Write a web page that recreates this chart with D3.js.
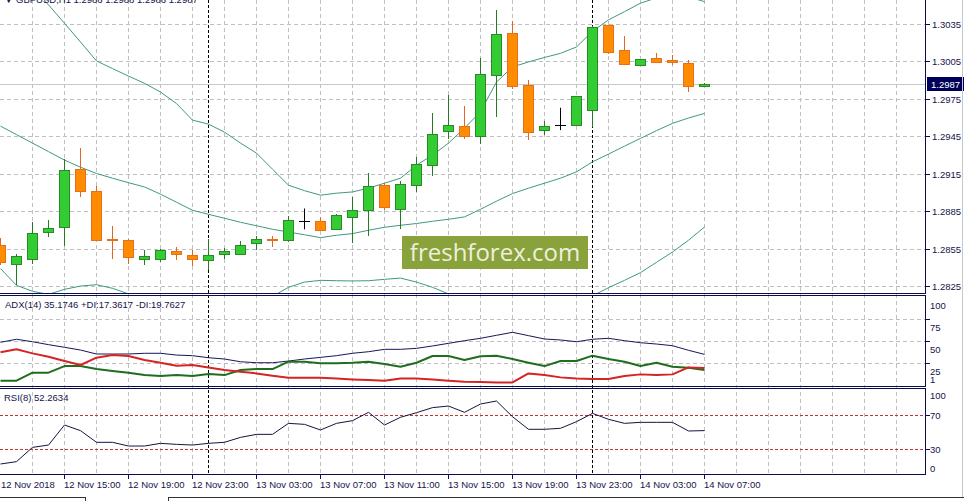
<!DOCTYPE html>
<html lang="en">
<head>
  <meta charset="UTF-8">
  <title>GBPUSD,H1</title>
  <style>
    body { margin: 0; background: #fff; }
    svg { display: block; font-family: "Liberation Sans", Arial, sans-serif; }
  </style>
</head>
<body>
  <svg width="967" height="501"></svg>

  <script src="https://cdnjs.cloudflare.com/ajax/libs/d3/7.8.5/d3.min.js"></script>
  <script>
    // GBPUSD H1 bars, first bar = 12 Nov 2018 11:00
    const firstBar = Date.UTC(2018, 10, 12, 11);

    const opens  = [1.28587, 1.28434, 1.28471, 1.28691, 1.28731, 1.29191, 1.29014, 1.28635, 1.28621, 1.28474,
                    1.28474, 1.28533, 1.28507, 1.28466, 1.28515, 1.28515, 1.28603, 1.28635, 1.28621, 1.28776,
                    1.28774, 1.28710, 1.28808, 1.28868, 1.29065, 1.28872, 1.29062, 1.29223, 1.29496, 1.29538,
                    1.29453, 1.29943, 1.30279, 1.29862, 1.29504, 1.29541, 1.29546, 1.29664, 1.30346, 1.30143,
                    1.30023, 1.30079, 1.30063, 1.30041, 1.29860];
    const highs  = [1.28637, 1.28509, 1.28768, 1.28782, 1.29269, 1.29359, 1.29057, 1.28734, 1.28635, 1.28541,
                    1.28549, 1.28568, 1.28541, 1.28635, 1.28563, 1.28613, 1.28653, 1.28659, 1.28819, 1.28876,
                    1.28806, 1.28835, 1.28969, 1.29164, 1.29081, 1.29095, 1.29285, 1.29638, 1.29784, 1.29696,
                    1.30079, 1.30466, 1.30376, 1.29905, 1.29576, 1.29683, 1.29776, 1.30338, 1.30350, 1.30258,
                    1.30077, 1.30124, 1.30103, 1.30063, 1.29880];
    const lows   = [1.28421, 1.28260, 1.28434, 1.28648, 1.28576, 1.28969, 1.28616, 1.28474, 1.28434, 1.28426,
                    1.28447, 1.28466, 1.28415, 1.28381, 1.28474, 1.28509, 1.28541, 1.28568, 1.28608, 1.28710,
                    1.28701, 1.28701, 1.28603, 1.28656, 1.28862, 1.28715, 1.29009, 1.29137, 1.29429, 1.29429,
                    1.29389, 1.29610, 1.29830, 1.29421, 1.29464, 1.29504, 1.29541, 1.29530, 1.30111, 1.30025,
                    1.30017, 1.30039, 1.30025, 1.29811, 1.29860];
    const closes = [1.28447, 1.28493, 1.28677, 1.28718, 1.29183, 1.29020, 1.28624, 1.28629, 1.28487, 1.28493,
                    1.28541, 1.28515, 1.28474, 1.28507, 1.28533, 1.28587, 1.28629, 1.28629, 1.28787, 1.28776,
                    1.28707, 1.28822, 1.28862, 1.29057, 1.28888, 1.29070, 1.29229, 1.29477, 1.29549, 1.29458,
                    1.29951, 1.30271, 1.29854, 1.29493, 1.29536, 1.29541, 1.29774, 1.30332, 1.30132, 1.30031,
                    1.30071, 1.30052, 1.30052, 1.29854, 1.29870];

    // Bollinger bands
    const bbUpper  = [1.30932, 1.30788, 1.30643, 1.30507, 1.30360, 1.30210, 1.30058, 1.29997, 1.29937, 1.29879,
                      1.29809, 1.29717, 1.29584, 1.29552, 1.29488, 1.29400, 1.29320, 1.29191, 1.29063, 1.29019,
                      1.28983, 1.28999, 1.29009, 1.29039, 1.29079, 1.29119, 1.29223, 1.29304, 1.29400, 1.29520,
                      1.29651, 1.29889, 1.30010, 1.30050, 1.30086, 1.30119, 1.30170, 1.30296, 1.30387, 1.30453,
                      1.30521, 1.30563, 1.30579, 1.30571, 1.30533];
    const bbMiddle = [1.29536, 1.29468, 1.29400, 1.29332, 1.29264, 1.29207, 1.29157, 1.29119, 1.29083, 1.29049,
                      1.28991, 1.28927, 1.28862, 1.28830, 1.28798, 1.28766, 1.28738, 1.28710, 1.28688, 1.28666,
                      1.28643, 1.28662, 1.28675, 1.28702, 1.28726, 1.28742, 1.28756, 1.28774, 1.28790, 1.28809,
                      1.28870, 1.28935, 1.28996, 1.29039, 1.29079, 1.29119, 1.29170, 1.29250, 1.29312, 1.29376,
                      1.29438, 1.29500, 1.29558, 1.29601, 1.29638];
    const bbLower  = [1.28395, 1.28261, 1.28213, 1.28189, 1.28229, 1.28255, 1.28266, 1.28237, 1.28192, 1.28140,
                      1.28100, 1.28060, 1.28020, 1.28020, 1.28044, 1.28084, 1.28124, 1.28173, 1.28245, 1.28287,
                      1.28301, 1.28298, 1.28296, 1.28298, 1.28309, 1.28319, 1.28287, 1.28245, 1.28192, 1.28124,
                      1.28020, 1.27940, 1.27916, 1.27932, 1.27980, 1.28044, 1.28116, 1.28177, 1.28242, 1.28301,
                      1.28363, 1.28445, 1.28528, 1.28622, 1.28728];

    // ADX(14)
    const adx     = [48.9, 52.3, 49.5, 46.2, 43.2, 40.1, 35.6, 35.6, 35.6, 36.4, 36.4, 34.4, 33.7, 31.4, 29.9,
                     26.8, 25.7, 25.7, 27.6, 29.9, 31.8, 33.7, 36.4, 38.2, 40.9, 40.9, 42.0, 44.7, 47.7, 50.7,
                     53.4, 56.8, 60.2, 56.4, 52.6, 51.5, 49.5, 52.3, 53.4, 50.7, 48.4, 46.9, 45.0, 39.8, 35.17];
    const plusDI  = [5.3, 5.3, 14.4, 14.4, 21.9, 21.9, 18.5, 16.3, 14.4, 11.7, 10.6, 11.7, 10.6, 12.8, 11.7,
                     17.4, 18.5, 18.5, 26.9, 26.9, 25.0, 25.0, 25.7, 26.9, 24.2, 21.2, 25.7, 33.3, 33.3, 28.7,
                     33.0, 33.7, 29.9, 25.7, 21.9, 27.6, 27.6, 33.7, 29.9, 26.9, 21.9, 25.7, 21.2, 20.0, 17.36];
    const minusDI = [37.5, 40.9, 36.3, 32.5, 27.6, 23.1, 31.4, 34.4, 33.3, 28.7, 25.7, 22.3, 23.1, 20.4, 17.4,
                     15.5, 13.6, 10.9, 8.7, 8.7, 8.7, 7.9, 6.8, 6.0, 5.3, 7.9, 7.9, 6.8, 5.3, 4.1,
                     3.8, 3.4, 3.4, 13.6, 11.7, 9.1, 7.9, 7.2, 7.2, 10.6, 12.5, 11.7, 12.5, 20.4, 19.76];

    // RSI(8)
    const rsi = [12.5, 15.3, 32.3, 35.1, 58.9, 52.2, 38.3, 38.3, 33.9, 33.9, 37.1, 35.9, 35.1, 37.1, 38.3,
                 44.2, 47.8, 47.8, 60.9, 59.7, 53.0, 60.9, 64.1, 74.0, 58.9, 68.1, 73.6, 79.6, 81.5, 74.0,
                 83.9, 87.5, 68.8, 53.8, 53.8, 55.0, 62.9, 72.8, 65.7, 60.9, 62.1, 62.1, 62.1, 51.8, 52.26];

    const priceTicks = [1.3035, 1.3005, 1.2975, 1.2945, 1.2915, 1.2885, 1.2855, 1.2825];
    const bidPrice = 1.2987;
    const adxLabels = [100, 75, 50, 25, 1];
    const adxGrid = [75, 50, 25];
    const rsiLabels = [100, 70, 30, 0];
    const rsiLevels = [70, 30];
    const timeLabels = ["12 Nov 2018", "12 Nov 15:00", "12 Nov 19:00", "12 Nov 23:00", "13 Nov 03:00",
                        "13 Nov 07:00", "13 Nov 11:00", "13 Nov 15:00", "13 Nov 19:00", "13 Nov 23:00",
                        "14 Nov 03:00", "14 Nov 07:00"];
    const titleText = "GBPUSD,H1  1.2986 1.2988 1.2986 1.2987";
    const adxTitle = "ADX(14) 35.1746 +DI:17.3617 -DI:19.7627";
    const rsiTitle = "RSI(8) 52.2634";

    const HOUR = 3600e3;
    const times = opens.map((d, i) => new Date(firstBar + i * HOUR));

    const svg = d3.select("svg");
    const plotRight = 925.5;
    const axisColor = "#0c0c50";
    const textColor = "#14144a";

    // パネル
    const main = { top: 0, bottom: 293.5 };
    const pAdx = { top: 295.5, bottom: 386.5 };
    const pRsi = { top: 388.5, bottom: 474.5 };

    const x = d3.scaleUtc()
      .domain([new Date(firstBar), new Date(firstBar + 58 * HOUR)])
      .range([0, 928]);
    const y = d3.scaleLinear().domain([1.2825, 1.3035]).range([286.7, 24.5]);
    const yAdx = d3.scaleLinear().domain([0, 100]).range([385.4, 297.2]);
    const yRsi = d3.scaleLinear().domain([0, 100]).range([474.5, 390.5]);

    const crisp = v => Math.floor(v) + 0.5;
    const bx = i => Math.round(x(times[i])) + 0.5;

    const defs = svg.append("defs");
    [["clipMain", 0, 0, 925, 293], ["clipAdx", 0, 296, 925, 90], ["clipRsi", 0, 389, 925, 85]]
      .forEach(c => {
        defs.append("clipPath").attr("id", c[0])
          .append("rect").attr("x", c[1]).attr("y", c[2]).attr("width", c[3]).attr("height", c[4]);
      });

    // grid
    const grid = svg.append("g")
      .attr("stroke", "#bfbfbf")
      .attr("stroke-dasharray", "4,3")
      .attr("shape-rendering", "crispEdges");

    const gridTimes = d3.utcHour.range(new Date(firstBar + 2 * HOUR), new Date(firstBar + 58 * HOUR), 2);
    grid.selectAll(".vg").data(gridTimes).enter().append("line")
      .attr("x1", d => crisp(x(d))).attr("x2", d => crisp(x(d)))
      .attr("y1", 0).attr("y2", pRsi.bottom);

    grid.selectAll(".hg").data(priceTicks).enter().append("line")
      .attr("x1", 0).attr("x2", plotRight)
      .attr("y1", d => crisp(y(d))).attr("y2", d => crisp(y(d)));

    grid.selectAll(".ag").data(adxGrid).enter().append("line")
      .attr("x1", 0).attr("x2", plotRight)
      .attr("y1", d => crisp(yAdx(d))).attr("y2", d => crisp(yAdx(d)));

    // RSI levels 70 / 30
    svg.append("g").selectAll("line").data(rsiLevels).enter().append("line")
      .attr("x1", 0).attr("x2", plotRight)
      .attr("y1", d => crisp(yRsi(d))).attr("y2", d => crisp(yRsi(d)))
      .attr("stroke", "#c03434").attr("stroke-dasharray", "3,2")
      .attr("shape-rendering", "crispEdges");

    // bid line
    svg.append("line")
      .attr("x1", 0).attr("x2", plotRight)
      .attr("y1", crisp(y(bidPrice))).attr("y2", crisp(y(bidPrice)))
      .attr("stroke", "#c8c8c8").attr("shape-rendering", "crispEdges");

    // day separators
    const days = d3.utcDay.range(new Date(firstBar), new Date(firstBar + 58 * HOUR));
    svg.append("g").selectAll("line").data(days).enter().append("line")
      .attr("x1", d => crisp(x(d))).attr("x2", d => crisp(x(d)))
      .attr("y1", 0).attr("y2", pRsi.bottom)
      .attr("stroke", "#000").attr("stroke-dasharray", "3,2")
      .attr("shape-rendering", "crispEdges");

    // watermark
    const wm = svg.append("g");
    wm.append("rect")
      .attr("x", 402).attr("y", 236).attr("width", 186).attr("height", 33)
      .attr("fill", "#89a23b");
    wm.append("text")
      .attr("x", 495).attr("y", 261)
      .attr("text-anchor", "middle")
      .attr("font-family", "'Open Sans', 'Noto Sans', sans-serif")
      .attr("font-size", 24)
      .attr("fill", "#eef0dc")
      .text("freshforex.com");

    // Bollinger bands
    const gMain = svg.append("g").attr("clip-path", "url(#clipMain)");
    const idx = d3.range(opens.length);
    [bbUpper, bbMiddle, bbLower].forEach(band => {
      gMain.append("path")
        .datum(idx)
        .attr("fill", "none")
        .attr("stroke", "#3f9a80")
        .attr("stroke-width", 1)
        .attr("d", d3.line().x(i => bx(i)).y(i => y(band[i])));
    });

    // candles
    const candles = gMain.selectAll(".candle").data(idx).enter().append("g");
    candles.each(function (i) {
      const g = d3.select(this);
      const o = opens[i], c = closes[i];
      const cx = bx(i);
      if (o === c) {
        g.append("line").attr("x1", cx).attr("x2", cx)
          .attr("y1", y(highs[i])).attr("y2", y(lows[i])).attr("stroke", "#000");
        g.append("line").attr("x1", cx - 5.5).attr("x2", cx + 5.5)
          .attr("y1", crisp(y(o))).attr("y2", crisp(y(o))).attr("stroke", "#000");
        return;
      }
      const up = c > o;
      const wick = up ? "#237c23" : "#e4651c";
      g.append("line").attr("x1", cx).attr("x2", cx)
        .attr("y1", Math.round(y(highs[i]))).attr("y2", Math.round(y(lows[i])))
        .attr("stroke", wick).attr("shape-rendering", "crispEdges");
      const top = Math.round(y(Math.max(o, c))) + 0.5;
      const bot = Math.max(Math.round(y(Math.min(o, c))) + 0.5, top + 1);
      g.append("rect")
        .attr("x", cx - 5).attr("width", 10)
        .attr("y", top).attr("height", bot - top)
        .attr("fill", up ? "#33cc33" : "#ff8c00")
        .attr("stroke", up ? "#2a8a2a" : "#e4701e")
        .attr("shape-rendering", "crispEdges");
    });

    // ADX
    const gAdx = svg.append("g").attr("clip-path", "url(#clipAdx)");
    [[adx, "#16165c", 1], [plusDI, "#1e6e1e", 2], [minusDI, "#d42424", 2]].forEach(s => {
      gAdx.append("path").datum(idx)
        .attr("fill", "none").attr("stroke", s[1]).attr("stroke-width", s[2])
        .attr("stroke-linejoin", "round")
        .attr("d", d3.line().x(i => bx(i)).y(i => yAdx(s[0][i])));
    });

    // RSI
    svg.append("g").attr("clip-path", "url(#clipRsi)")
      .append("path").datum(idx)
      .attr("fill", "none").attr("stroke", "#141440").attr("stroke-width", 1)
      .attr("d", d3.line().x(i => bx(i)).y(i => yRsi(rsi[i])));

    // panel frames
    const frame = svg.append("g").attr("stroke", axisColor).attr("shape-rendering", "crispEdges");
    [main.bottom, pAdx.top, pAdx.bottom, pRsi.top, pRsi.bottom].forEach(v => {
      frame.append("line").attr("x1", 0).attr("x2", plotRight).attr("y1", v).attr("y2", v);
    });
    [[0, main.bottom], [pAdx.top, pAdx.bottom], [pRsi.top, pRsi.bottom]].forEach(p => {
      frame.append("line").attr("x1", plotRight).attr("x2", plotRight).attr("y1", p[0]).attr("y2", p[1]);
    });

    // right scales
    const scaleG = svg.append("g").attr("font-size", 9.5).attr("fill", textColor);
    priceTicks.forEach(p => {
      frame.append("line").attr("x1", plotRight).attr("x2", plotRight + 4)
        .attr("y1", crisp(y(p))).attr("y2", crisp(y(p)));
      scaleG.append("text").attr("x", 932).attr("y", y(p)).attr("dy", "0.35em").text(p.toFixed(4));
    });
    adxGrid.forEach(v => {
      frame.append("line").attr("x1", plotRight).attr("x2", plotRight + 4)
        .attr("y1", crisp(yAdx(v))).attr("y2", crisp(yAdx(v)));
    });
    adxLabels.forEach(v => {
      const ly = Math.min(Math.max(yAdx(v) + 8.5, pAdx.top + 8), pAdx.bottom - 6.5);
      scaleG.append("text").attr("x", 930).attr("y", ly).attr("dy", "0.35em").text(v);
    });
    rsiLevels.forEach(v => {
      frame.append("line").attr("x1", plotRight).attr("x2", plotRight + 4)
        .attr("y1", crisp(yRsi(v))).attr("y2", crisp(yRsi(v)));
    });
    rsiLabels.forEach(v => {
      const ly = Math.min(Math.max(yRsi(v), pRsi.top + 7), pRsi.bottom - 6);
      scaleG.append("text").attr("x", 930).attr("y", ly).attr("dy", "0.35em").text(v);
    });

    // bid label
    svg.append("rect")
      .attr("x", 927).attr("y", Math.round(y(bidPrice)) - 7).attr("width", 37).attr("height", 14)
      .attr("fill", "#00005a");
    svg.append("text")
      .attr("x", 945.5).attr("y", y(bidPrice)).attr("dy", "0.35em")
      .attr("text-anchor", "middle").attr("font-size", 9.5).attr("fill", "#fff")
      .text(bidPrice.toFixed(4));

    // time axis
    const timeTicks = timeLabels.map((d, i) => new Date(firstBar + i * 4 * HOUR));
    timeTicks.forEach((t, i) => {
      if (i > 0) {
        frame.append("line").attr("x1", crisp(x(t))).attr("x2", crisp(x(t)))
          .attr("y1", pRsi.bottom).attr("y2", pRsi.bottom + 4);
      }
      scaleG.append("text").attr("x", i === 0 ? 1 : x(t)).attr("y", 488).text(timeLabels[i]);
    });

    // titles
    svg.append("text").attr("x", 4).attr("y", 3).attr("font-size", 9.5).attr("fill", textColor)
      .text("\u25BC " + titleText);
    svg.append("text").attr("x", 5).attr("y", 305).attr("dy", "0.35em")
      .attr("font-size", 9.5).attr("fill", textColor).text(adxTitle);
    svg.append("text").attr("x", 4).attr("y", 398).attr("dy", "0.35em")
      .attr("font-size", 9.5).attr("fill", textColor).text(rsiTitle);

    // window edge + tabs
    const win = svg.append("g").attr("shape-rendering", "crispEdges").attr("fill", "none");
    win.append("line").attr("x1", 962.5).attr("x2", 962.5).attr("y1", 0).attr("y2", 497)
      .attr("stroke", "#c8c8c8");
    win.append("path").attr("stroke", "#333")
      .attr("d", "M0,497.5H85.5V501M168.5,501V497.5H963.5");
  </script>
</body>
</html>
